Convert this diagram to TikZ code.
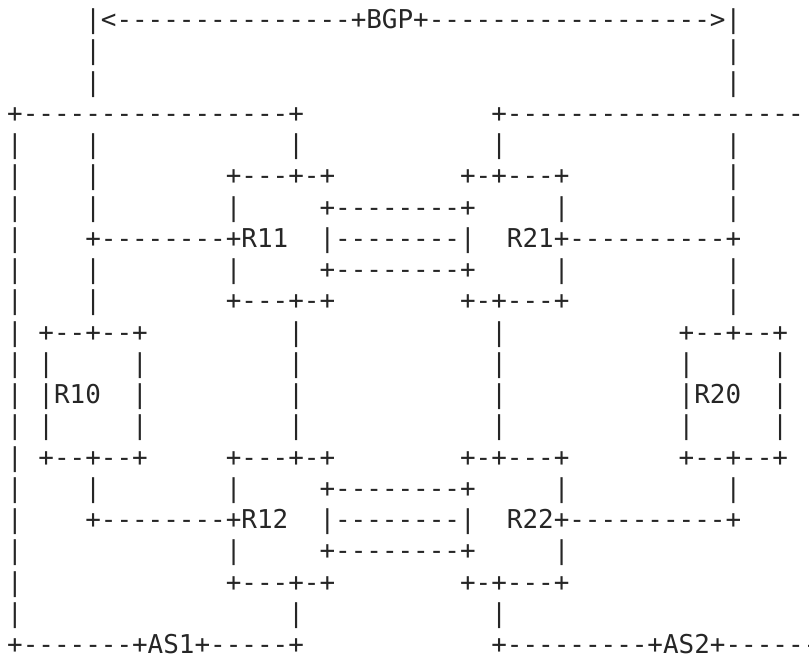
\documentclass[tikz,border=0pt]{standalone}
\usepackage{fontspec}
\setmonofont{DejaVu Sans Mono}
\newcommand\sk[1]{\kern#1\fontcharwd\font`\M\relax}
\tikzset{
  asciirow/.style={anchor=base west, inner sep=0pt, outer sep=0pt,
    font=\fontsize{25.94pt}{31.25pt}\selectfont\ttfamily, text=black!85}
}
\begin{document}
\begin{tikzpicture}
\useasboundingbox (0pt,0pt) rectangle (809pt,-654pt);
\begin{scope}[x=1pt, y=-31.25pt, yshift=-28.5pt]
\node[asciirow] (r0)  at (7.2,0)  {\sk{5}|<---------------+BGP+------------------>|};
\node[asciirow] (r1)  at (7.2,1)  {\sk{5}|\sk{40}|};
\node[asciirow] (r2)  at (7.2,2)  {\sk{5}|\sk{40}|};
\node[asciirow] (r3)  at (7.2,3)  {+-----------------+\sk{12}+-------------------};
\node[asciirow] (r4)  at (7.2,4)  {|\sk{4}|\sk{12}|\sk{12}|\sk{14}|};
\node[asciirow] (r5)  at (7.2,5)  {|\sk{4}|\sk{8}+---+-+\sk{8}+-+---+\sk{10}|};
\node[asciirow] (r6)  at (7.2,6)  {|\sk{4}|\sk{8}|\sk{5}+--------+\sk{5}|\sk{10}|};
\node[asciirow] (r7)  at (7.2,7)  {|\sk{4}+--------+R11\sk{2}|--------|\sk{2}R21+----------+};
\node[asciirow] (r8)  at (7.2,8)  {|\sk{4}|\sk{8}|\sk{5}+--------+\sk{5}|\sk{10}|};
\node[asciirow] (r9)  at (7.2,9)  {|\sk{4}|\sk{8}+---+-+\sk{8}+-+---+\sk{10}|};
\node[asciirow] (r10) at (7.2,10) {|\sk{1}+--+--+\sk{9}|\sk{12}|\sk{11}+--+--+};
\node[asciirow] (r11) at (7.2,11) {|\sk{1}|\sk{5}|\sk{9}|\sk{12}|\sk{11}|\sk{5}|};
\node[asciirow] (r12) at (7.2,12) {|\sk{1}|R10\sk{2}|\sk{9}|\sk{12}|\sk{11}|R20\sk{2}|};
\node[asciirow] (r13) at (7.2,13) {|\sk{1}|\sk{5}|\sk{9}|\sk{12}|\sk{11}|\sk{5}|};
\node[asciirow] (r14) at (7.2,14) {|\sk{1}+--+--+\sk{5}+---+-+\sk{8}+-+---+\sk{7}+--+--+};
\node[asciirow] (r15) at (7.2,15) {|\sk{4}|\sk{8}|\sk{5}+--------+\sk{5}|\sk{10}|};
\node[asciirow] (r16) at (7.2,16) {|\sk{4}+--------+R12\sk{2}|--------|\sk{2}R22+----------+};
\node[asciirow] (r17) at (7.2,17) {|\sk{13}|\sk{5}+--------+\sk{5}|};
\node[asciirow] (r18) at (7.2,18) {|\sk{13}+---+-+\sk{8}+-+---+};
\node[asciirow] (r19) at (7.2,19) {|\sk{17}|\sk{12}|};
\node[asciirow] (r20) at (7.2,20) {+-------+AS1+-----+\sk{12}+---------+AS2+------};
\end{scope}
\end{tikzpicture}
\end{document}
